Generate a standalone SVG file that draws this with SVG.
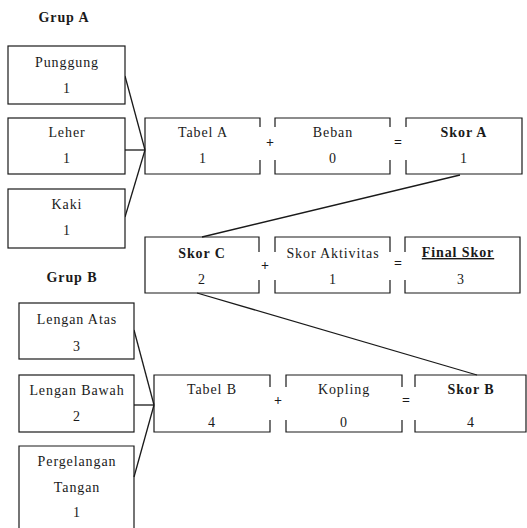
<svg xmlns="http://www.w3.org/2000/svg" width="527" height="528" viewBox="0 0 527 528">
<style>
.b{fill:#fff;stroke:#1a1a1a;stroke-width:1.2}
.e{fill:none;stroke:#1a1a1a;stroke-width:1.2}
.c{fill:none;stroke:#1a1a1a;stroke-width:1.3}
text{font-family:"Liberation Serif","Times New Roman",serif;font-size:14px;fill:#1a1a1a;text-anchor:middle;letter-spacing:0.9px}
.bd{font-weight:bold}
.op{font-size:14px;font-weight:bold;letter-spacing:0}
</style>
<rect width="527" height="528" fill="#fff"/>
<text class="bd" x="64" y="22">Grup A</text>
<text class="bd" x="72" y="282">Grup B</text>

<g id="connectors">
<line class="c" x1="125" y1="76" x2="145" y2="150"/>
<line class="c" x1="125" y1="150" x2="145" y2="150"/>
<line class="c" x1="125" y1="217" x2="145" y2="150"/>
<line class="c" x1="460" y1="175" x2="202" y2="237"/>
<line class="c" x1="197" y1="293" x2="477" y2="375"/>
<line class="c" x1="134" y1="330" x2="154" y2="405"/>
<line class="c" x1="134" y1="405" x2="154" y2="405"/>
<line class="c" x1="134" y1="477" x2="154" y2="405"/>
</g>

<g id="punggung"><rect class="b" x="8" y="46" width="117" height="58"/><text x="67" y="67">Punggung</text><text x="67" y="93">1</text></g>
<g id="leher"><rect class="b" x="8" y="118" width="117" height="56"/><text x="67" y="137">Leher</text><text x="67" y="163">1</text></g>
<g id="kaki"><rect class="b" x="8" y="189" width="117" height="59"/><text x="67" y="209">Kaki</text><text x="67" y="235">1</text></g>

<g id="tabel-a"><path class="e" d="M260,127 V118 H145 V174 H260 V160"/><text x="203" y="137">Tabel A</text><text x="203" y="163">1</text></g>
<g id="op-a1"><text class="op" x="270" y="147">+</text></g>
<g id="beban"><path class="e" d="M275,127 V118 H390 V127 M390,160 V174 H275 V160"/><text x="333" y="137">Beban</text><text x="333" y="163">0</text></g>
<g id="op-a2"><text class="op" x="398" y="147">=</text></g>
<g id="skor-a"><path class="e" d="M406,127 V118 H522 V174 H406 V160"/><text class="bd" x="464" y="137">Skor A</text><text x="464" y="163">1</text></g>

<g id="skor-c"><path class="e" d="M259,252 V237 H145 V293 H259 V280"/><text class="bd" x="202" y="258">Skor C</text><text x="202" y="284">2</text></g>
<g id="op-c1"><text class="op" x="265" y="270">+</text></g>
<g id="skor-aktivitas"><path class="e" d="M275,252 V237 H390 V252 M390,280 V293 H275 V280"/><text x="333" y="258">Skor Aktivitas</text><text x="333" y="284">1</text></g>
<g id="op-c2"><text class="op" x="398" y="268">=</text></g>
<g id="final-skor"><path class="e" d="M405,252 V237 H520 V293 H405 V280"/><text class="bd" x="458" y="257" text-decoration="underline">Final Skor</text><text x="461" y="284">3</text></g>

<g id="lengan-atas"><rect class="b" x="19" y="303" width="115" height="56"/><text x="77" y="324">Lengan Atas</text><text x="77" y="351">3</text></g>
<g id="lengan-bawah"><rect class="b" x="19" y="375" width="115" height="57"/><text x="77" y="395">Lengan Bawah</text><text x="77" y="421">2</text></g>
<g id="pergelangan-tangan"><path class="e" d="M19,530 V446 H134 V530"/><text x="77" y="466">Pergelangan</text><text x="77" y="492">Tangan</text><text x="77" y="517">1</text></g>

<g id="tabel-b"><path class="e" d="M270,387 V375 H154 V432 H270 V420"/><text x="212" y="394">Tabel B</text><text x="212" y="427">4</text></g>
<g id="op-b1"><text class="op" x="278" y="405">+</text></g>
<g id="kopling"><path class="e" d="M286,387 V375 H402 V387 M402,420 V432 H286 V420"/><text x="344" y="394">Kopling</text><text x="344" y="427">0</text></g>
<g id="op-b2"><text class="op" x="406" y="405">=</text></g>
<g id="skor-b"><path class="e" d="M415,387 V375 H526 V432 H415 V420"/><text class="bd" x="471" y="394">Skor B</text><text x="471" y="427">4</text></g>
</svg>
